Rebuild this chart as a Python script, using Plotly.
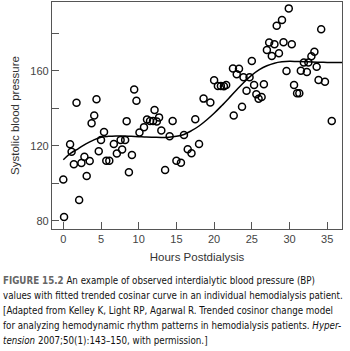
import plotly.graph_objects as go

# Observed interdialytic systolic BP
hours = [0.1, 0.0, 0.9, 1.1, 1.4, 1.75, 2.1, 2.4, 2.8, 3.1,
         3.5, 3.75, 4.1, 4.4, 4.7, 5.0, 5.4, 5.7, 6.1, 6.7,
         7.1, 7.6, 7.8, 8.2, 8.4, 8.7, 9.1, 9.4, 9.7, 10.1,
         10.7, 11.1, 11.5, 11.9, 12.4, 12.1, 12.7, 13.0, 13.5, 14.1,
         14.5, 15.0, 15.6, 16.0, 16.5, 17.0, 17.5, 18.0, 18.6, 19.5,
         20.0, 20.5, 20.9, 21.3, 21.6, 22.6, 22.5, 23.0, 23.3, 23.7,
         23.9, 24.3, 24.7, 25.0, 25.3, 25.6, 25.9, 26.3, 26.6, 27.3,
         28.0, 27.0, 27.65, 28.6, 29.2, 30.3, 28.3, 29.0, 29.9, 29.6,
         30.6, 31.0, 31.3, 31.5, 31.9, 32.5, 32.3, 32.9, 33.3, 33.6,
         33.85, 34.7, 34.2, 35.6]
sbp = [82.0, 102.0, 120.8, 116.8, 110.1, 142.9, 91.0, 110.8, 114.1, 103.8,
       111.8, 132.0, 136.1, 144.8, 117.1, 123.0, 127.3, 112.0, 112.0, 120.9,
       115.9, 123.0, 118.0, 123.0, 133.1, 105.9, 115.0, 150.0, 144.0, 127.0,
       129.9, 134.0, 133.2, 133.2, 132.9, 139.0, 135.1, 128.1, 107.0, 125.0,
       133.2, 112.0, 110.9, 125.7, 118.1, 116.0, 134.1, 120.9, 145.1, 143.0,
       154.9, 151.8, 151.8, 151.7, 152.4, 136.1, 161.1, 158.1, 161.0, 140.8,
       156.5, 149.3, 156.5, 165.2, 152.4, 147.4, 145.0, 146.0, 152.8, 175.0,
       174.1, 171.0, 167.8, 169.3, 175.1, 174.1, 184.0, 187.0, 193.2, 159.8,
       152.4, 147.9, 147.9, 160.0, 164.3, 164.3, 159.3, 167.7, 170.1, 162.1,
       155.0, 154.1, 182.1, 133.2]

# Fitted trended cosinor curve
curve_hours = list(range(0, 38))
curve_sbp = [112.5, 116, 118.5, 121, 123, 124.5, 125, 125.2, 125.2, 125,
             124.8, 124.6, 124.5, 124.4, 124.5, 125, 126, 128, 130.5, 133.7,
             137.3, 141.3, 145.5, 149.8, 154, 157.6, 160.5, 162.6, 164, 164.7,
             165, 164.9, 164.8, 164.6, 164.5, 164.4, 164.3, 164.3]

x_ticks = [0, 5, 10, 15, 20, 25, 30, 35]
y_ticks = [80, 120, 160]

caption_lines = [
    "<span style='color:#666'><b>FIGURE 15.2</b></span> An example of observed interdialytic blood pressure (BP)",
    "values with fitted trended cosinar curve in an individual hemodialysis patient.",
    "[Adapted from Kelley K, Light RP, Agarwal R. Trended cosinor change model",
    "for analyzing hemodynamic rhythm patterns in hemodialysis patients. <i>Hyper-</i>",
    "<i>tension</i> 2007;50(1):143–150, with permission.]",
]

W, H = 350, 351
ML, MR, MT, MB = 52, 8, 2, 122
PW, PH = W - ML - MR, H - MT - MB

fig = go.Figure()
fig.add_trace(go.Scatter(
    x=curve_hours, y=curve_sbp, mode="lines",
    line=dict(color="black", width=1.5, shape="spline"),
    hoverinfo="skip", showlegend=False))
fig.add_trace(go.Scatter(
    x=hours, y=sbp, mode="markers",
    marker=dict(symbol="circle-open", size=7, color="black",
                line=dict(color="black", width=1.5)),
    showlegend=False))

axis_common = dict(showline=True, mirror=True, linecolor="#555", linewidth=1.3,
                   ticks="inside", ticklen=7, tickcolor="#555", tickwidth=1.3,
                   showgrid=False, zeroline=False,
                   tickfont=dict(family="Liberation Sans, Arial, sans-serif", size=11, color="#444"))

fig.update_xaxes(range=[-1.5, 36.96], tickvals=x_ticks,
                 title=dict(text="Hours Postdialysis", standoff=8,
                            font=dict(family="Liberation Sans, Arial, sans-serif", size=11.5, color="#333")),
                 **axis_common)
fig.update_yaxes(range=[75.6, 196.6], tickvals=y_ticks,
                 minor=dict(dtick=20, tick0=80, ticks="inside", ticklen=7, tickcolor="#555", tickwidth=1.3),
                 title=dict(text="Systolic blood pressure", standoff=8,
                            font=dict(family="Liberation Sans, Arial, sans-serif", size=11.5, color="#333")),
                 **axis_common)

line_y = [280, 295, 310, 325, 340]
for txt, py in zip(caption_lines, line_y):
    fig.add_annotation(text=txt, xref="paper", yref="paper",
                       x=(1 - ML) / PW, y=(H - MB - py) / PH,
                       xanchor="left", yanchor="middle", showarrow=False,
                       font=dict(family="Liberation Sans Narrow, DejaVu Sans Condensed, sans-serif",
                                 size=9.7, color="#111"))

fig.update_layout(width=W, height=H, margin=dict(l=ML, r=MR, t=MT, b=MB),
                  plot_bgcolor="white", paper_bgcolor="white")

fig.write_html("out.html")
